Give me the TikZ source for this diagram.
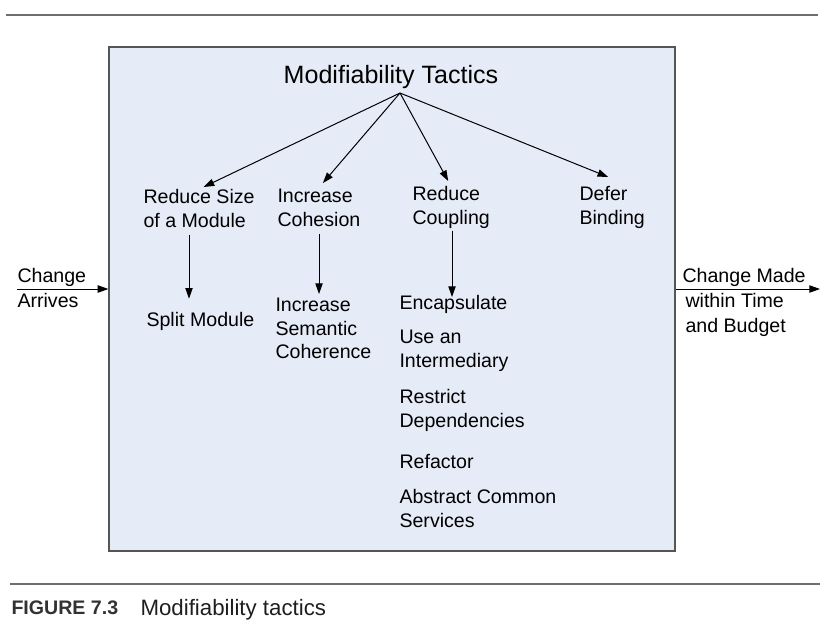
\documentclass[tikz,border=0pt]{standalone}
\usepackage{fontspec}
\setmainfont{Liberation Sans}
\usetikzlibrary{arrows.meta}
\tikzset{every picture/.style={line width=0.75pt}}
\begin{document}
\begin{tikzpicture}[x=0.75pt,y=0.75pt,yscale=-1,xscale=1,
	tac/.style={-{Triangle[length=8pt,width=5.5pt]}},
	lbl/.style={anchor=north west,inner sep=0,align=left,font=\fontsize{14.7}{17.6}\selectfont},
	side/.style={anchor=north west,inner sep=0,align=left,font=\fontsize{14.7}{18.75}\selectfont},
	rule/.style={draw={rgb, 255:red, 110; green, 110; blue, 110 },line width=1.5pt}]
	\useasboundingbox (0,0) rectangle (837,622);

	%Straight Lines [rules]
	\draw [rule] (6,15) -- (818,15) ;
	\draw [rule] (10,584) -- (820,584) ;
	%Shape: Rectangle [box]
	\node (box) [draw={rgb, 255:red, 85; green, 85; blue, 85 }, fill={rgb, 255:red, 230; green, 236; blue, 247 }, line width=0.9pt, inner sep=0, minimum width=424.5pt, minimum height=378pt] at (392,299) {};

	% Text Node
	\node (mt) [anchor=base, inner sep=0, font=\fontsize{18.8}{22}\selectfont] at (391,83) {Modifiability Tactics};
	\coordinate (apex) at (400,93);

	% Text Nodes: tactic groups
	\node (rs) [lbl] at (143,189) {Reduce Size\\of a Module};
	\node (ic) [lbl] at (277,189) {Increase\\Cohesion};
	\node (rc) [lbl] at (412,186) {Reduce\\Coupling};
	\node (db) [lbl] at (579,186) {Defer\\Binding};

	% Text Nodes: tactics
	\node (sm) [lbl] at (146,312) {Split Module};
	\node (isc) [lbl] at (275,298) {Increase\\Semantic\\Coherence};
	\node (enc) [lbl] at (399,295) {Encapsulate};
	\node (uai) [lbl] at (399,330) {Use an\\Intermediary};
	\node (rd) [lbl] at (399,389) {Restrict\\Dependencies};
	\node (ref) [lbl] at (399,454) {Refactor};
	\node (acs) [lbl] at (399,489) {Abstract Common\\Services};

	% Text Nodes: stimulus and response
	\node (ca) [side] at (17,268) {Change\\Arrives};
	\node (cm) [side] at (682,268) {Change Made\\\hspace*{2.25pt}within Time\\\hspace*{2.25pt}and Budget};
	\coordinate (in) at (17,289);
	\coordinate (out) at (820,289);

	%Straight Lines [fan-out]
	\draw [tac] (apex) -- ([shift={(4.5,-2)}]rs.north) ;
	\draw [tac] (apex) -- ([shift={(4,-6)}]ic.north) ;
	\draw [tac] (apex) -- ([shift={(-3,-5)}]rc.north) ;
	\draw [tac] (apex) -- ([shift={(-4,-9)}]db.north) ;

	%Straight Lines [down]
	\coordinate (rsx) at (189,0);
	\coordinate (icx) at (319,0);
	\coordinate (rcx) at (452,0);
	\draw [tac, shorten <=5pt, shorten >=10pt] (rs.south -| rsx) -- (sm.north -| rsx) ;
	\draw [tac, shorten <=5pt, shorten >=3pt] (ic.south -| icx) -- (isc.north -| icx) ;
	\draw [tac, shorten <=1.5pt, shorten >=-1.5pt] (rc.south -| rcx) -- (enc.north -| rcx) ;

	%Straight Lines [in and out]
	\draw [tac] (in) -- (box.west |- in) ;
	\draw [tac] (box.east |- out) -- (out) ;

	% Text Node: caption
	\node (fig) [anchor=base west, inner sep=0, text={rgb, 255:red, 50; green, 50; blue, 50 }, font=\bfseries\fontsize{14.7}{17}\selectfont] at (11,614) {FIGURE 7.3};
	\node (cap) [anchor=base west, inner sep=0, text={rgb, 255:red, 30; green, 30; blue, 30 }, font=\fontsize{16.7}{20}\selectfont] at (140,615) {Modifiability tactics};

\end{tikzpicture}
\end{document}
